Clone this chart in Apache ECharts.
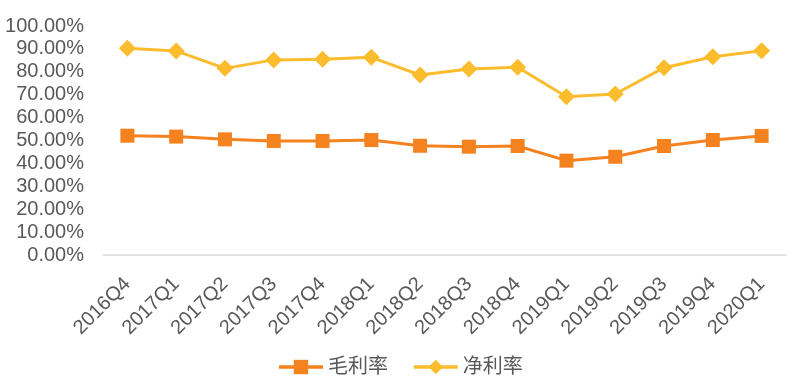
<!DOCTYPE html>
<html>
<head>
<meta charset="utf-8">
<script src="https://cdn.jsdelivr.net/npm/echarts@6/dist/echarts.min.js"></script>
<style>html,body{margin:0;padding:0;background:#fff;}#c{width:800px;height:383px;}</style>
</head>
<body>
<div id="c"></div>
<script>
const categories = ['2016Q4','2017Q1','2017Q2','2017Q3','2017Q4','2018Q1','2018Q2','2018Q3','2018Q4','2019Q1','2019Q2','2019Q3','2019Q4','2020Q1'];
const grossMargin = [52.1, 51.7, 50.5, 49.8, 49.8, 50.2, 47.7, 47.3, 47.6, 41.2, 42.9, 47.6, 50.2, 52.0];
const netMargin = [90.3, 89.1, 81.5, 85.2, 85.5, 86.3, 78.6, 81.2, 82.0, 69.1, 70.3, 81.8, 86.6, 89.2];
const seriesNames = ['毛利率', '净利率'];

const font = '"Liberation Sans", Arial, "Noto Sans CJK SC", sans-serif';
const chart = echarts.init(document.getElementById('c'), null, {renderer: 'canvas'});
chart.setOption({
  animation: false,
  textStyle: {fontFamily: font},
  grid: {left: 103, right: 14, top: 26, bottom: 128, containLabel: false},
  legend: {
    bottom: 1,
    left: 'center',
    itemWidth: 44,
    itemHeight: 18,
    itemGap: 24,
    lineStyle: {width: 3.5},
    textStyle: {fontSize: 20, color: '#595959', fontFamily: font},
    data: seriesNames
  },
  xAxis: {
    type: 'category',
    data: categories,
    boundaryGap: true,
    axisLine: {lineStyle: {color: '#d9d9d9', width: 1.5}},
    axisTick: {show: false},
    axisLabel: {rotate: 45, fontSize: 20, color: '#595959', margin: 26, interval: 0}
  },
  yAxis: {
    type: 'value',
    min: 0, max: 100, interval: 10,
    axisLine: {show: false},
    axisTick: {show: false},
    splitLine: {show: false},
    axisLabel: {fontSize: 20, color: '#595959', margin: 19, formatter: v => v.toFixed(2) + '%'}
  },
  series: [
    {name: seriesNames[0], type: 'line', data: grossMargin, symbol: 'rect', symbolSize: 14,
     itemStyle: {color: '#F4821F'}, lineStyle: {width: 3, color: '#F4821F'}},
    {name: seriesNames[1], type: 'line', data: netMargin, symbol: 'diamond', symbolSize: 17,
     itemStyle: {color: '#FBBC2D'}, lineStyle: {width: 3, color: '#FBBC2D'}}
  ]
});
</script>
</body>
</html>
